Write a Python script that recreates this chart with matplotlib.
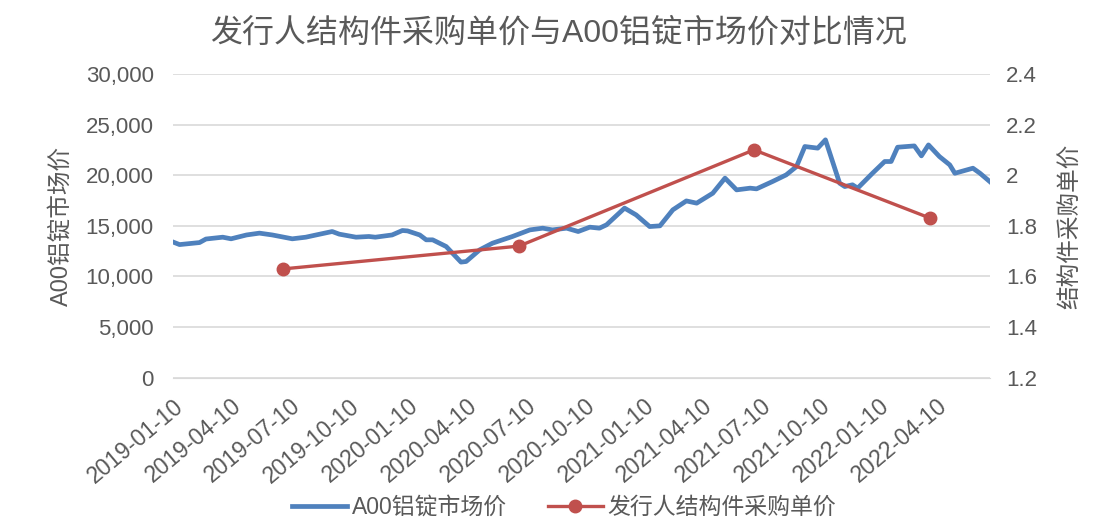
import numpy as np
import pandas as pd
import matplotlib
matplotlib.use("Agg")
import matplotlib.pyplot as plt

plt.rcParams['font.family'] = ['Liberation Sans', 'Noto Sans CJK SC', 'DejaVu Sans']
plt.rcParams['axes.unicode_minus'] = False

# ---------------------------------------------------------------------------
# data
# ---------------------------------------------------------------------------
al_dates = [
    "2019-01-10", "2019-01-20", "2019-02-20", "2019-03-02", "2019-03-28", "2019-04-10",
    "2019-05-04", "2019-05-24", "2019-06-13", "2019-07-14", "2019-08-04", "2019-08-20",
    "2019-09-14", "2019-09-25", "2019-10-21", "2019-11-10", "2019-11-20", "2019-12-16",
    "2020-01-01", "2020-01-09", "2020-01-28", "2020-02-07", "2020-02-17", "2020-03-09",
    "2020-04-01", "2020-04-09", "2020-04-30", "2020-05-20", "2020-06-20", "2020-07-17",
    "2020-08-06", "2020-08-21", "2020-09-12", "2020-09-30", "2020-10-18", "2020-11-02",
    "2020-11-13", "2020-12-11", "2020-12-29", "2021-01-19", "2021-02-04", "2021-02-24",
    "2021-03-17", "2021-04-02", "2021-04-27", "2021-05-16", "2021-06-03", "2021-06-24",
    "2021-07-04", "2021-07-29", "2021-08-19", "2021-09-04", "2021-09-17", "2021-10-07",
    "2021-10-19", "2021-11-10", "2021-11-18", "2021-11-30", "2021-12-08", "2021-12-31",
    "2022-01-19", "2022-01-29", "2022-02-08", "2022-03-06", "2022-03-17", "2022-03-28",
    "2022-04-14", "2022-04-30", "2022-05-08", "2022-06-05", "2022-06-16", "2022-07-01",
]
al_price = [
    13400, 13150, 13350, 13700, 13880, 13720,
    14100, 14280, 14100, 13720, 13880, 14100,
    14440, 14180, 13880, 13950, 13880, 14100,
    14540, 14500, 14100, 13620, 13620, 12960,
    11420, 11480, 12630, 13290, 13950, 14600,
    14770, 14600, 14770, 14440, 14870, 14770,
    15100, 16750, 16080, 14930, 15000, 16580,
    17460, 17240, 18220, 19710, 18550, 18720,
    18650, 19380, 20030, 20850, 22830, 22670,
    23490, 19210, 18880, 19050, 18720, 20190,
    21350, 21350, 22760, 22890, 21910, 22990,
    21840, 21020, 20190, 20690, 20190, 19380,
]

part_dates = ["2019-06-30", "2020-06-30", "2021-06-30", "2022-03-31"]
part_price = [1.63, 1.72, 2.10, 1.83]

tick_labels = [
    "2019-01-10", "2019-04-10", "2019-07-10", "2019-10-10",
    "2020-01-10", "2020-04-10", "2020-07-10", "2020-10-10",
    "2021-01-10", "2021-04-10", "2021-07-10", "2021-10-10",
    "2022-01-10", "2022-04-10",
]
year_labels = ["2019-01-10", "2020-01-10", "2021-01-10", "2022-01-10"]

al_dates = pd.to_datetime(al_dates)
part_dates = pd.to_datetime(part_dates)
tick_dates = pd.to_datetime(tick_labels)
year_dates = pd.to_datetime(year_labels)

# ---------------------------------------------------------------------------
# plot
# ---------------------------------------------------------------------------
txt = '#595959'
grid_c = '#d9d9d9'

fig = plt.figure(figsize=(11.17, 5.24), dpi=100)
ax = fig.add_axes([0.155, 0.279, 0.731, 0.580])
ax2 = ax.twinx()

l1, = ax.plot(al_dates, al_price, color='#4F81BD', lw=3.4, solid_joinstyle='round',
              label='A00铝锭市场价', zorder=3)
l2, = ax2.plot(part_dates, part_price, color='#C0504D', lw=2.4, marker='o', ms=9,
               label='发行人结构件采购单价', zorder=3)

ax.set_xlim(al_dates[0], al_dates[-1])
ax.set_ylim(0, 30000)
ax.set_yticks(np.arange(0, 30001, 5000))
ax.set_yticklabels([f"{v:,}" for v in range(0, 30001, 5000)])
ax2.set_ylim(1.2, 2.4)
ax2.set_yticks([1.2, 1.4, 1.6, 1.8, 2.0, 2.2, 2.4])
ax2.set_yticklabels(['1.2', '1.4', '1.6', '1.8', '2', '2.2', '2.4'])

ax.set_xticks(tick_dates)
ax.set_xticklabels(tick_labels, rotation=40, ha='right', rotation_mode='anchor')
ax.set_xticks(year_dates, minor=True)

ax.grid(axis='y', color=grid_c, lw=1.2)
ax.grid(axis='x', which='minor', color=grid_c, lw=1.2)
ax.set_axisbelow(True)

for a in (ax, ax2):
    for s in a.spines.values():
        s.set_visible(False)
    a.tick_params(length=0, colors=txt, labelsize=16)
ax.tick_params(axis='x', which='both', length=0, labelsize=16.5, pad=12)
ax.tick_params(axis='y', pad=14)
ax2.tick_params(axis='y', pad=12)
ax.spines['bottom'].set_visible(True)
ax.spines['bottom'].set_color(grid_c)

ax.set_ylabel('A00铝锭市场价', color=txt, fontsize=17, labelpad=9)
ax2.set_ylabel('结构件采购单价', color=txt, fontsize=17, labelpad=16)

fig.suptitle('发行人结构件采购单价与A00铝锭市场价对比情况', color=txt, fontsize=23, y=0.965)

fig.legend(handles=[l1, l2], loc='lower center', bbox_to_anchor=(0.505, -0.012), ncol=2,
           frameon=False, fontsize=16.5, labelcolor=txt, handlelength=2.4,
           handletextpad=0.2, columnspacing=1.8, borderaxespad=0.1)

fig.savefig('out.png', dpi=100)
